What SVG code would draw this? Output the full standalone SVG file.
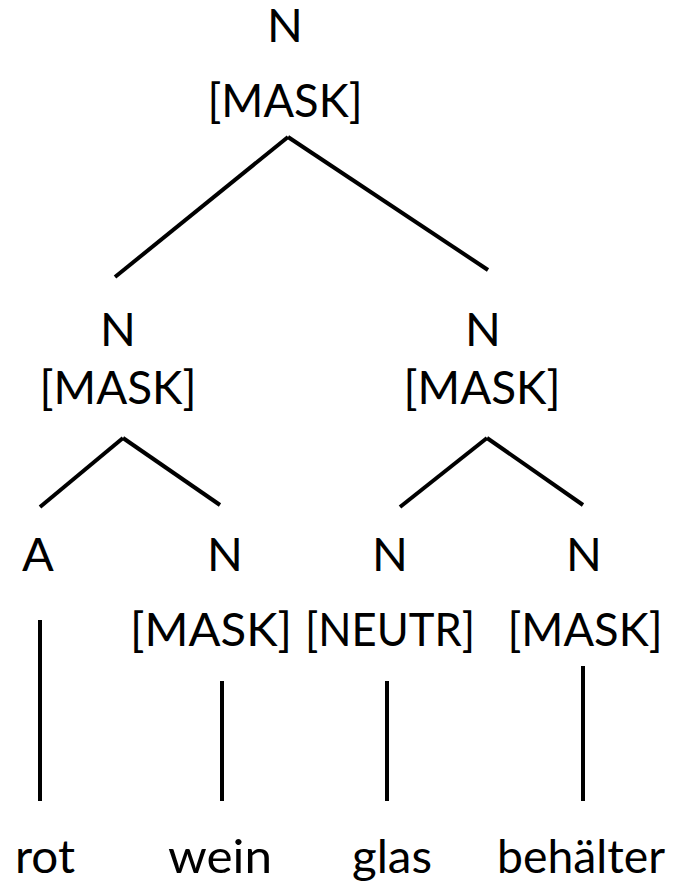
<svg xmlns="http://www.w3.org/2000/svg" width="683" height="884" viewBox="0 0 683 884">
<style>
text{font-family:Lato,"Open Sans","Liberation Sans",sans-serif;font-size:47px;fill:#000;text-anchor:middle}
line{stroke:#000;stroke-width:4;stroke-linecap:butt}
</style>
<rect width="683" height="884" fill="#fff"/>
<g id="connectors">
<line x1="288" y1="137" x2="115" y2="277"/>
<line x1="288" y1="137" x2="488" y2="270"/>
<line x1="123" y1="438" x2="40" y2="507"/>
<line x1="123" y1="438" x2="220" y2="505"/>
<line x1="487" y1="438" x2="400" y2="507"/>
<line x1="487" y1="438" x2="583" y2="505"/>
<line x1="40" y1="620" x2="40" y2="801"/>
<line x1="222" y1="681" x2="222" y2="801"/>
<line x1="387" y1="681" x2="387" y2="801"/>
<line x1="583" y1="666" x2="583" y2="801"/>
</g>
<g id="root"><text x="285" y="42">N</text><text x="285" y="117" textLength="155" lengthAdjust="spacingAndGlyphs">[MASK]</text></g>
<g id="n-left"><text x="118" y="346">N</text><text x="118" y="404" textLength="157" lengthAdjust="spacingAndGlyphs">[MASK]</text></g>
<g id="n-right"><text x="483" y="346">N</text><text x="482" y="404" textLength="157" lengthAdjust="spacingAndGlyphs">[MASK]</text></g>
<g id="a-rot"><text x="38" y="571">A</text></g>
<g id="n-wein"><text x="225" y="571">N</text><text x="211" y="646" textLength="162" lengthAdjust="spacingAndGlyphs">[MASK]</text></g>
<g id="n-glas"><text x="390" y="571">N</text><text x="390" y="646" textLength="170" lengthAdjust="spacingAndGlyphs">[NEUTR]</text></g>
<g id="n-behaelter"><text x="584" y="571">N</text><text x="585" y="646" textLength="155" lengthAdjust="spacingAndGlyphs">[MASK]</text></g>
<g id="words">
<text x="45" y="873" textLength="60" lengthAdjust="spacingAndGlyphs">rot</text>
<text x="220" y="873" textLength="104" lengthAdjust="spacingAndGlyphs">wein</text>
<text x="392" y="873" textLength="80" lengthAdjust="spacingAndGlyphs">glas</text>
<text x="581" y="873" textLength="168" lengthAdjust="spacingAndGlyphs">behälter</text>
</g>
</svg>
